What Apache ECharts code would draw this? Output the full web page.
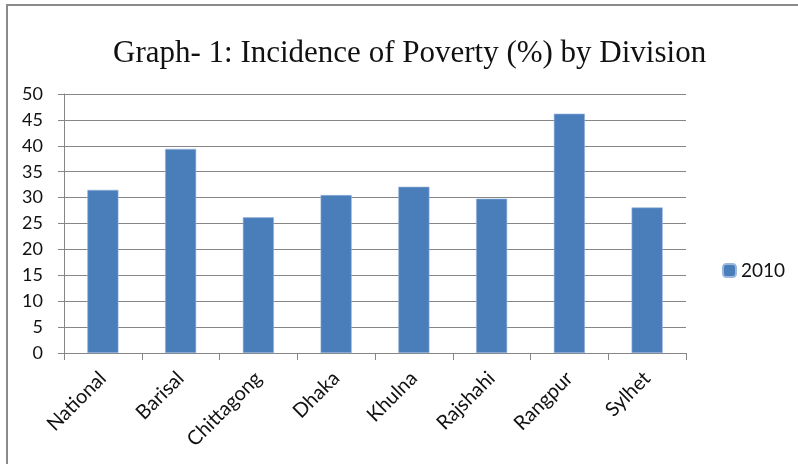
<!DOCTYPE html>
<html>
<head>
<meta charset="utf-8">
<script src="https://cdn.jsdelivr.net/npm/echarts@6/dist/echarts.min.js"></script>
<style>
  html, body { margin: 0; padding: 0; background: #fff; }
  #chart { width: 798px; height: 464px; }
</style>
</head>
<body>
<div id="chart"></div>
<script>
// Poverty headcount rate (%) by division, 2010
const divisions = ['National', 'Barisal', 'Chittagong', 'Dhaka', 'Khulna', 'Rajshahi', 'Rangpur', 'Sylhet'];
const poverty2010 = [31.5, 39.4, 26.2, 30.5, 32.1, 29.8, 46.2, 28.1];
const seriesName = '2010';
const titleText = 'Graph- 1: Incidence of Poverty (%) by Division';

const chart = echarts.init(document.getElementById('chart'), null, { renderer: 'canvas' });
const axisGrey = '#868686';
const labelFont = 'Lato, "Open Sans", sans-serif';

chart.setOption({
  animation: false,
  backgroundColor: '#ffffff',
  graphic: [{
    type: 'rect',
    shape: { x: 7, y: 5, width: 800, height: 470 },
    style: { fill: 'none', stroke: '#8a8a8a', lineWidth: 2 },
    silent: true
  }],
  title: {
    text: titleText,
    left: 113,
    top: 38,
    padding: 0,
    textStyle: {
      fontFamily: '"Liberation Serif", "DejaVu Serif", serif',
      fontSize: 31,
      fontWeight: 'normal',
      color: '#111'
    }
  },
  legend: {
    data: [seriesName],
    orient: 'vertical',
    left: 717,
    top: 256,
    itemWidth: 13,
    itemHeight: 13,
    itemGap: 6,
    textStyle: { fontFamily: labelFont, fontSize: 19, color: '#111' }
  },
  grid: { left: 64, right: 112, top: 94, bottom: 111, containLabel: false },
  xAxis: {
    type: 'category',
    data: divisions,
    axisLine: { lineStyle: { color: axisGrey, width: 1 } },
    axisTick: { show: true, length: 7, alignWithLabel: false, lineStyle: { color: axisGrey } },
    axisLabel: {
      rotate: 45,
      interval: 0,
      margin: 22,
      fontFamily: labelFont,
      fontSize: 20,
      color: '#111'
    }
  },
  yAxis: {
    type: 'value',
    min: 0,
    max: 50,
    interval: 5,
    axisLine: { show: true, lineStyle: { color: axisGrey, width: 1 } },
    axisTick: { show: true, length: 6, lineStyle: { color: axisGrey } },
    splitLine: { show: true, lineStyle: { color: axisGrey, width: 1 } },
    axisLabel: {
      margin: 21,
      fontFamily: labelFont,
      fontSize: 18,
      color: '#111'
    }
  },
  series: [{
    name: seriesName,
    type: 'bar',
    data: poverty2010,
    barWidth: '40%',
    itemStyle: { color: '#4a7ebb', borderColor: '#9bb7dd', borderWidth: 0.6 }
  }]
});
</script>
</body>
</html>
